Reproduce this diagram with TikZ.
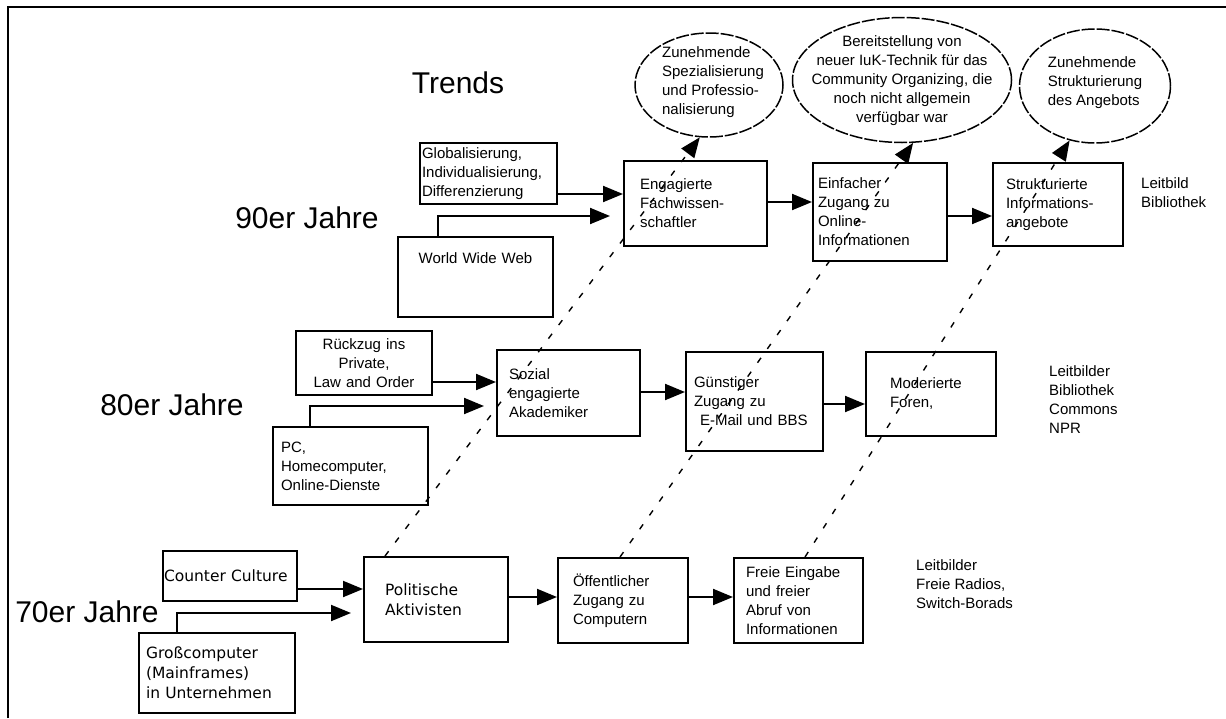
\documentclass[tikz,border=0pt]{standalone}
\usepackage{fontspec}
\setmainfont{Liberation Sans}
\newfontfamily\dejavu{DejaVu Sans}
\usepackage{tikz}
\usetikzlibrary{arrows.meta,shapes}

\begin{document}
\begin{tikzpicture}[x=1pt, y=-1pt,
  box/.style={draw, rectangle, line width=2pt, inner ysep=2pt, align=left, font=\fontsize{15}{19}\selectfont},
  bigbox/.style={box, font=\dejavu\fontsize{15.5}{20}\selectfont},
  trend/.style={draw, ellipse, line width=1.5pt, dash pattern=on 13pt off 2pt, inner sep=0pt},
  small/.style={align=left, inner sep=0pt, font=\fontsize{15}{19}\selectfont},
  period/.style={anchor=base, inner sep=0pt, font=\fontsize{30}{34}\selectfont},
  arr/.style={line width=2pt, -{Triangle[length=20pt, width=16pt]}},
  link/.style={line width=1.4pt, dash pattern=on 6pt off 11pt, -{Triangle[length=20pt, width=16pt]}}]
\useasboundingbox (0,0) rectangle (1226,718);
\draw[line width=2pt] (8,718) -- (8,7) -- (1226,7);

% Jahrzehnte
\node[period] (trends) at (458,93) {Trends};
\node[period] (y90) at (307,228) {90er Jahre};
\node[period] (y80) at (172,415) {80er Jahre};
\node[period] (y70) at (87,622) {70er Jahre};

% Trends oben
\node[trend, minimum width=148pt, minimum height=104pt] (e1) at (709,85) {};
\node[small] (e1t) at (713,82) {Zunehmende\\Spezialisierung\\und Professio-\\nalisierung};
\node[trend, minimum width=219pt, minimum height=125pt] (e2) at (902,80) {};
\node[small, align=center] (e2t) at (902,81) {Bereitstellung von\\neuer IuK-Technik f\"ur das\\Community Organizing, die\\noch nicht allgemein\\verf\"ugbar war};
\node[trend, minimum width=151pt, minimum height=114pt] (e3) at (1095,86) {};
\node[small] (e3t) at (1095,83) {Zunehmende\\Strukturierung\\des Angebots};

% 90er
\node[box, text width=133pt, inner xsep=2pt, minimum height=61pt] (glob) at (488.5,173.5) {Globalisierung,\\Individualisierung,\\Differenzierung};
\node[box, text width=151pt, inner xsep=2pt, minimum height=80pt, align=center, text depth=37pt] (www) at (475.5,277) {World Wide Web};
\node[box, text width=111pt, inner xsep=16pt, minimum height=85pt] (eng) at (695.5,203.5) {Engagierte\\Fachwissen-\\schaftler};
\node[box, text width=124pt, inner xsep=5pt, minimum height=98pt] (ein) at (880,212) {Einfacher\\Zugang zu\\Online-\\Informationen};
\node[box, text width=104pt, inner xsep=13pt, minimum height=83pt] (str) at (1058,204.5) {Strukturierte\\Informations-\\angebote};
\node[small, anchor=west] (leit90) at (1141,193) {Leitbild\\Bibliothek};

% 80er
\node[box, text width=130pt, inner xsep=3pt, minimum height=64pt, align=center] (rue) at (364,363) {R\"uckzug ins\\Private,\\Law and Order};
\node[box, text width=139pt, inner xsep=8pt, minimum height=78pt] (pc) at (350.5,466) {PC,\\Homecomputer,\\Online-Dienste};
\node[box, text width=119pt, inner xsep=12pt, minimum height=86pt] (soz) at (568.5,393) {Sozial\\engagierte\\Akademiker};
\node[box, text width=121pt, inner xsep=8pt, minimum height=99pt] (gue) at (754.5,401.5) {G\"unstiger\\Zugang zu\\\hspace*{6pt}E-Mail und BBS};
\node[box, text width=82pt, inner xsep=24pt, minimum height=84pt] (mod) at (931,394) {Moderierte\\Foren,};
\node[small, anchor=west] (leit80) at (1049,400) {Leitbilder\\Bibliothek\\Commons\\NPR};

% 70er
\node[bigbox, text width=132pt, inner xsep=1pt, minimum height=50pt] (cc) at (230,576) {\mbox{Counter Culture}};
\node[bigbox, text width=142pt, inner xsep=7pt, minimum height=80pt] (gro) at (217,673) {Gro\ss computer\\(Mainframes)\\in Unternehmen};
\node[bigbox, text width=102pt, inner xsep=21pt, minimum height=85pt] (pol) at (436,599.5) {Politische\\Aktivisten};
\node[box, text width=100pt, inner xsep=15pt, minimum height=85pt] (oef) at (623,600.5) {\"Offentlicher\\Zugang zu\\Computern};
\node[box, text width=105pt, inner xsep=12pt, minimum height=85pt] (fre) at (798.5,600.5) {Freie Eingabe\\und freier\\Abruf von\\Informationen};
\node[small, anchor=west] (leit70) at (916,584) {Leitbilder\\Freie Radios,\\Switch-Borads};

% Pfeile
\coordinate (wwwend) at (610,216);
\coordinate (pcend) at (484,406);
\coordinate (groend) at (351,613);
\draw[arr] (glob.east |- 0,194) -- (eng.west |- 0,194);
\draw[arr] (438,0 |- www.north) |- (wwwend);
\draw[arr] (eng.east |- 0,202) -- (ein.west |- 0,202);
\draw[arr] (ein.east |- 0,216) -- (str.west |- 0,216);
\draw[arr] (rue.east |- 0,382) -- (soz.west |- 0,382);
\draw[arr] (310,0 |- pc.north) |- (pcend);
\draw[arr] (soz.east |- 0,392) -- (gue.west |- 0,392);
\draw[arr] (gue.east |- 0,404) -- (mod.west |- 0,404);
\draw[arr] (cc.east |- 0,589) -- (pol.west |- 0,589);
\draw[arr] (177,0 |- gro.north) |- (groend);
\draw[arr] (pol.east |- 0,597) -- (oef.west |- 0,597);
\draw[arr] (oef.east |- 0,597) -- (fre.west |- 0,597);

% Entwicklungslinien
\draw[link] (385,0 |- pol.north) -- (e1.260);
\draw[link] (620,0 |- oef.north) -- (e2.280);
\draw[link] (805,0 |- fre.north) -- (e3.245);
\end{tikzpicture}
\end{document}
